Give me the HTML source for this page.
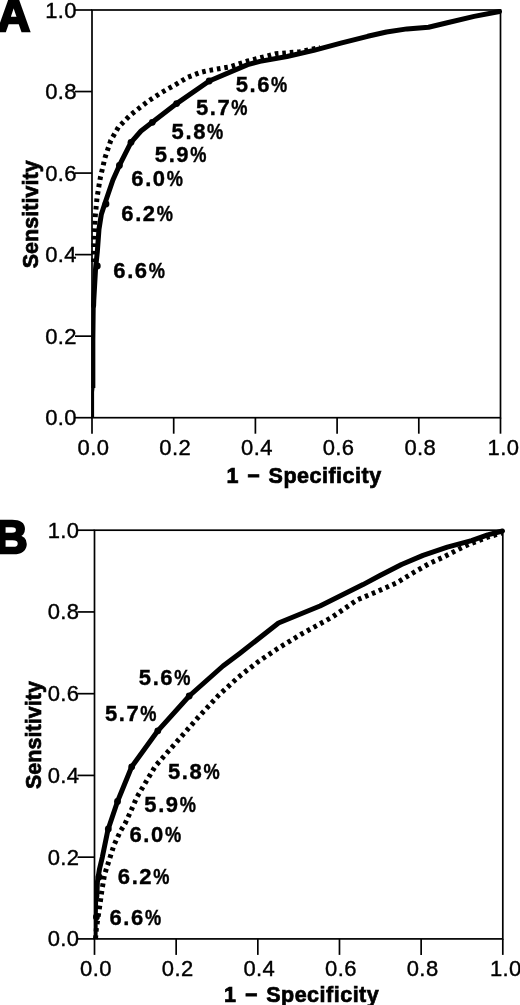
<!DOCTYPE html>
<html><head><meta charset="utf-8"><title>ROC curves</title>
<style>
html,body{margin:0;padding:0;background:#fff;}
body{width:520px;height:1005px;overflow:hidden;}
svg{display:block;}
text{font-family:"Liberation Sans",Arial,Helvetica,sans-serif;fill:#000;}
.t{font-size:22px;letter-spacing:0.4px;stroke:#000;stroke-width:0.4px;}
.l{font-size:22px;font-weight:bold;letter-spacing:1.6px;stroke:#000;stroke-width:0.4px;}
.pc{letter-spacing:0;}
.a{white-space:pre;}
.a{font-size:21.5px;font-weight:bold;letter-spacing:0.05px;stroke:#000;stroke-width:0.7px;}
.p{font-size:45.5px;font-weight:bold;stroke:#000;stroke-width:2.5px;}
</style></head><body>
<svg width="520" height="1005" viewBox="0 0 520 1005">
<rect width="520" height="1005" fill="#fff"/>
<rect x="92.0" y="10.0" width="408.5" height="407.7" fill="none" stroke="#000" stroke-width="1.7"/>
<line x1="92.00" y1="417.7" x2="92.00" y2="433.7" stroke="#000" stroke-width="1.7"/>
<line x1="75.0" y1="417.70" x2="92.0" y2="417.70" stroke="#000" stroke-width="1.7"/>
<text class="t" x="93.50" y="455.20" text-anchor="middle">0.0</text>
<text class="t" x="77.00" y="425.20" text-anchor="end">0.0</text>
<line x1="173.70" y1="417.7" x2="173.70" y2="433.7" stroke="#000" stroke-width="1.7"/>
<line x1="75.0" y1="336.16" x2="92.0" y2="336.16" stroke="#000" stroke-width="1.7"/>
<text class="t" x="175.20" y="455.20" text-anchor="middle">0.2</text>
<text class="t" x="77.00" y="343.66" text-anchor="end">0.2</text>
<line x1="255.40" y1="417.7" x2="255.40" y2="433.7" stroke="#000" stroke-width="1.7"/>
<line x1="75.0" y1="254.62" x2="92.0" y2="254.62" stroke="#000" stroke-width="1.7"/>
<text class="t" x="256.90" y="455.20" text-anchor="middle">0.4</text>
<text class="t" x="77.00" y="262.12" text-anchor="end">0.4</text>
<line x1="337.10" y1="417.7" x2="337.10" y2="433.7" stroke="#000" stroke-width="1.7"/>
<line x1="75.0" y1="173.08" x2="92.0" y2="173.08" stroke="#000" stroke-width="1.7"/>
<text class="t" x="338.60" y="455.20" text-anchor="middle">0.6</text>
<text class="t" x="77.00" y="180.58" text-anchor="end">0.6</text>
<line x1="418.80" y1="417.7" x2="418.80" y2="433.7" stroke="#000" stroke-width="1.7"/>
<line x1="75.0" y1="91.54" x2="92.0" y2="91.54" stroke="#000" stroke-width="1.7"/>
<text class="t" x="420.30" y="455.20" text-anchor="middle">0.8</text>
<text class="t" x="77.00" y="99.04" text-anchor="end">0.8</text>
<line x1="500.50" y1="417.7" x2="500.50" y2="433.7" stroke="#000" stroke-width="1.7"/>
<line x1="75.0" y1="10.00" x2="92.0" y2="10.00" stroke="#000" stroke-width="1.7"/>
<text class="t" x="503.50" y="455.20" text-anchor="middle">1.0</text>
<text class="t" x="77.00" y="17.50" text-anchor="end">1.0</text>
<path d="M93.6,262.0 L93.7,252.0 L94.3,233.7 L95.3,215.8 L97.0,198.0 L99.5,182.4 L100.5,177.0 L105.0,157.7 L110.8,140.4 L118.5,127.0 L130.0,115.4 L140.0,107.5 L149.2,100.5 L160.8,93.0 L168.5,88.5 L174.6,85.2 L187.7,77.2 L200.8,72.3 L207.0,70.8 L230.0,66.8 L247.7,61.0 L275.4,53.8 L300.0,51.7 L320.0,47.5" fill="none" stroke="#000" stroke-width="5" stroke-dasharray="3.6 3.9" stroke-linejoin="round"/>
<path d="M93.6,306.0 L93.8,300.0 L95.6,268.0 L97.3,252.0 L99.0,229.0 L101.3,214.5 L104.7,204.0 L112.9,180.0 L119.4,165.4 L131.0,142.3 L141.0,131.0 L152.3,122.3 L176.6,103.6 L209.2,81.0 L247.7,64.6 L260.0,61.4 L287.0,56.5 L313.8,50.4 L340.8,43.2 L367.7,36.3 L386.5,32.0 L407.0,28.9 L428.5,27.2 L447.3,22.8 L474.2,16.4 L499.5,11.5" fill="none" stroke="#000" stroke-width="5.0" stroke-linejoin="round" stroke-linecap="round"/>
<path d="M93.3,388 L93.3,340 L93.7,304" fill="none" stroke="#000" stroke-width="4.1" stroke-linejoin="round"/><path d="M92.7,417.7 L92.7,392 L93.3,386" fill="none" stroke="#000" stroke-width="2.8" stroke-linejoin="round"/>
<circle cx="97.3" cy="266" r="3.4" fill="#000"/>
<circle cx="106" cy="204" r="3.4" fill="#000"/>
<circle cx="119.4" cy="165.4" r="3.4" fill="#000"/>
<circle cx="131" cy="142.3" r="3.4" fill="#000"/>
<circle cx="152.3" cy="122.3" r="3.4" fill="#000"/>
<circle cx="176.6" cy="103.6" r="3.4" fill="#000"/>
<circle cx="209.2" cy="81" r="3.4" fill="#000"/>
<text class="l" x="113.3" y="278.0">6.6<tspan class="pc" textLength="16.2" lengthAdjust="spacingAndGlyphs">%</tspan></text>
<text class="l" x="121.3" y="221.0">6.2<tspan class="pc" textLength="16.2" lengthAdjust="spacingAndGlyphs">%</tspan></text>
<text class="l" x="131.3" y="186.0">6.0<tspan class="pc" textLength="16.2" lengthAdjust="spacingAndGlyphs">%</tspan></text>
<text class="l" x="154.8" y="162.0">5.9<tspan class="pc" textLength="16.2" lengthAdjust="spacingAndGlyphs">%</tspan></text>
<text class="l" x="171.6" y="138.5">5.8<tspan class="pc" textLength="16.2" lengthAdjust="spacingAndGlyphs">%</tspan></text>
<text class="l" x="195.9" y="115.4">5.7<tspan class="pc" textLength="16.2" lengthAdjust="spacingAndGlyphs">%</tspan></text>
<text class="l" x="235.7" y="92.3">5.6<tspan class="pc" textLength="16.2" lengthAdjust="spacingAndGlyphs">%</tspan></text>
<text class="a" x="226.5" y="482.9" xml:space="preserve">1<tspan dx="2.8"> </tspan>−<tspan dx="2.6"> </tspan><tspan style="letter-spacing:0.5px">Specificity</tspan></text>
<text class="a" transform="translate(37.9,214.3) rotate(-90)" text-anchor="middle">Sensitivity</text>
<text class="p" x="-2.7" y="30.7">A</text>
<rect x="94.5" y="530.2" width="408.3" height="408.69999999999993" fill="none" stroke="#000" stroke-width="1.7"/>
<line x1="94.50" y1="938.9" x2="94.50" y2="954.9" stroke="#000" stroke-width="1.7"/>
<line x1="77.5" y1="938.90" x2="94.5" y2="938.90" stroke="#000" stroke-width="1.7"/>
<text class="t" x="96.00" y="975.60" text-anchor="middle">0.0</text>
<text class="t" x="79.50" y="946.40" text-anchor="end">0.0</text>
<line x1="176.16" y1="938.9" x2="176.16" y2="954.9" stroke="#000" stroke-width="1.7"/>
<line x1="77.5" y1="857.16" x2="94.5" y2="857.16" stroke="#000" stroke-width="1.7"/>
<text class="t" x="177.66" y="975.60" text-anchor="middle">0.2</text>
<text class="t" x="79.50" y="864.66" text-anchor="end">0.2</text>
<line x1="257.82" y1="938.9" x2="257.82" y2="954.9" stroke="#000" stroke-width="1.7"/>
<line x1="77.5" y1="775.42" x2="94.5" y2="775.42" stroke="#000" stroke-width="1.7"/>
<text class="t" x="259.32" y="975.60" text-anchor="middle">0.4</text>
<text class="t" x="79.50" y="782.92" text-anchor="end">0.4</text>
<line x1="339.48" y1="938.9" x2="339.48" y2="954.9" stroke="#000" stroke-width="1.7"/>
<line x1="77.5" y1="693.68" x2="94.5" y2="693.68" stroke="#000" stroke-width="1.7"/>
<text class="t" x="340.98" y="975.60" text-anchor="middle">0.6</text>
<text class="t" x="79.50" y="701.18" text-anchor="end">0.6</text>
<line x1="421.14" y1="938.9" x2="421.14" y2="954.9" stroke="#000" stroke-width="1.7"/>
<line x1="77.5" y1="611.94" x2="94.5" y2="611.94" stroke="#000" stroke-width="1.7"/>
<text class="t" x="422.64" y="975.60" text-anchor="middle">0.8</text>
<text class="t" x="79.50" y="619.44" text-anchor="end">0.8</text>
<line x1="502.80" y1="938.9" x2="502.80" y2="954.9" stroke="#000" stroke-width="1.7"/>
<line x1="77.5" y1="530.20" x2="94.5" y2="530.20" stroke="#000" stroke-width="1.7"/>
<text class="t" x="505.80" y="975.60" text-anchor="middle">1.0</text>
<text class="t" x="79.50" y="537.70" text-anchor="end">1.0</text>
<path d="M95.5,939.0 L96.4,928.3 L99.6,907.0 L102.0,889.7 L104.5,874.8 L109.3,859.8 L114.0,845.0 L120.5,831.0 L125.0,823.7 L130.0,813.0 L137.0,797.0 L155.4,766.0 L177.0,741.5 L198.5,717.0 L218.5,695.4 L238.5,677.0 L258.5,661.5 L277.0,649.0 L301.5,634.0 L332.3,617.0 L357.0,600.0 L375.4,592.3 L396.0,583.2 L412.3,573.3 L428.5,564.0 L444.6,556.5 L460.8,548.2 L468.8,544.4 L487.7,537.2 L501.5,533.0" fill="none" stroke="#000" stroke-width="5" stroke-dasharray="3.6 3.9" stroke-linejoin="round"/>
<path d="M96.8,897.0 L97.4,882.0 L99.5,869.0 L102.3,857.3 L107.9,830.0 L117.5,801.5 L131.7,766.8 L157.8,730.8 L189.2,696.0 L223.0,666.0 L240.0,653.2 L278.5,623.0 L320.0,606.0 L363.0,584.6 L380.0,575.5 L401.5,564.5 L423.0,555.4 L447.3,547.2 L471.5,540.7 L487.7,534.8 L502.5,531.0" fill="none" stroke="#000" stroke-width="5.0" stroke-linejoin="round" stroke-linecap="round"/>
<path d="M95.9,938.9 L96.1,917 L96.6,896" fill="none" stroke="#000" stroke-width="3.3" stroke-linejoin="round"/>
<circle cx="96.4" cy="917" r="3.4" fill="#000"/>
<circle cx="99" cy="877" r="3.4" fill="#000"/>
<circle cx="108.3" cy="829" r="3.4" fill="#000"/>
<circle cx="117.5" cy="801.5" r="3.4" fill="#000"/>
<circle cx="131.7" cy="766.8" r="3.4" fill="#000"/>
<circle cx="157.8" cy="730.8" r="3.4" fill="#000"/>
<circle cx="189.2" cy="696" r="3.4" fill="#000"/>
<text class="l" x="109.5" y="925.2">6.6<tspan class="pc" textLength="16.2" lengthAdjust="spacingAndGlyphs">%</tspan></text>
<text class="l" x="117.8" y="883.7">6.2<tspan class="pc" textLength="16.2" lengthAdjust="spacingAndGlyphs">%</tspan></text>
<text class="l" x="129.5" y="841.5">6.0<tspan class="pc" textLength="16.2" lengthAdjust="spacingAndGlyphs">%</tspan></text>
<text class="l" x="144.3" y="812.3">5.9<tspan class="pc" textLength="16.2" lengthAdjust="spacingAndGlyphs">%</tspan></text>
<text class="l" x="168.0" y="779.0">5.8<tspan class="pc" textLength="16.2" lengthAdjust="spacingAndGlyphs">%</tspan></text>
<text class="l" x="104.9" y="720.6">5.7<tspan class="pc" textLength="16.2" lengthAdjust="spacingAndGlyphs">%</tspan></text>
<text class="l" x="138.8" y="684.6">5.6<tspan class="pc" textLength="16.2" lengthAdjust="spacingAndGlyphs">%</tspan></text>
<text class="a" x="224.1" y="1002.4" xml:space="preserve">1<tspan dx="2.8"> </tspan>−<tspan dx="2.6"> </tspan><tspan style="letter-spacing:0.5px">Specificity</tspan></text>
<text class="a" transform="translate(40.5,735.0) rotate(-90)" text-anchor="middle">Sensitivity</text>
<text class="p" x="-5.3" y="552.7">B</text>
</svg>
</body></html>
